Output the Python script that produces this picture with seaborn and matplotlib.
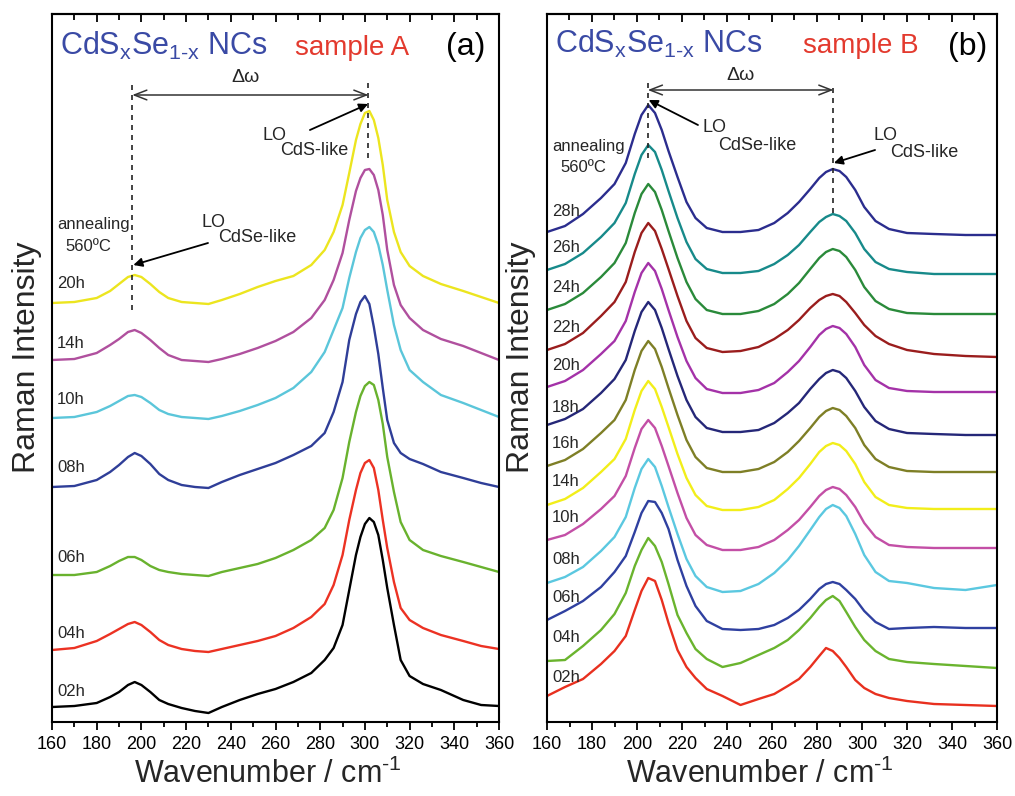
import matplotlib
matplotlib.use("Agg")
import matplotlib.pyplot as plt
from matplotlib.ticker import MultipleLocator
import pandas as pd
import seaborn as sns

# ---------------- data (panel a, sample A) ----------------
wn_a = [160, 170, 180, 186, 190, 194, 197, 200, 204, 208, 212, 218, 224, 230, 236, 244,
        252, 260, 268, 276, 282, 286, 290, 293, 296, 298, 300, 302, 304, 306, 308, 310,
        313, 316, 320, 326, 334, 344, 352, 360]
a_20h = [419, 420, 424, 431, 438, 445, 447, 445, 438, 430, 424, 420, 419, 418, 422, 428,
         435, 441, 446, 457, 472, 490, 517, 549, 582, 598, 609, 611, 602, 584, 557, 522,
         490, 470, 456, 446, 438, 431, 425, 419]
a_14h = [362, 363, 369, 377, 383, 390, 392, 389, 382, 374, 367, 362, 361, 360, 363, 368,
         374, 381, 390, 404, 422, 442, 469, 502, 531, 544, 552, 553, 547, 532, 507, 472,
         437, 417, 404, 392, 383, 376, 369, 362]
a_10h = [304, 305, 310, 316, 321, 326, 327, 325, 319, 312, 308, 305, 304, 303, 306, 311,
         317, 324, 334, 350, 370, 392, 414, 444, 470, 484, 492, 495, 490, 477, 457, 432,
         397, 372, 352, 340, 327, 319, 312, 305]
a_08h = [235, 236, 242, 250, 257, 265, 269, 266, 258, 248, 242, 237, 235, 234, 240, 247,
         253, 259, 267, 276, 289, 310, 340, 382, 408, 420, 426, 418, 395, 368, 334, 302,
         279, 269, 263, 258, 250, 244, 239, 235]
a_06h = [147, 147, 150, 156, 161, 165, 165, 162, 156, 152, 150, 148, 147, 146, 150, 154,
         158, 164, 172, 182, 194, 212, 244, 280, 310, 326, 336, 340, 337, 322, 298, 265,
         230, 200, 182, 172, 166, 160, 155, 150]
a_04h = [72, 74, 81, 88, 93, 98, 100, 97, 90, 82, 77, 73, 71, 70, 73, 77,
         81, 86, 94, 105, 118, 137, 167, 202, 232, 249, 259, 262, 254, 232, 202, 174,
         140, 114, 102, 94, 87, 81, 76, 73]
a_02h = [15, 16, 19, 25, 30, 37, 40, 37, 30, 22, 18, 14, 11, 9, 15, 22,
         28, 33, 40, 49, 62, 74, 97, 132, 167, 185, 198, 204, 200, 187, 162, 134,
         97, 62, 46, 38, 32, 22, 17, 16]
labels_a = ["20h", "14h", "10h", "08h", "06h", "04h", "02h"]
series_a = [a_20h, a_14h, a_10h, a_08h, a_06h, a_04h, a_02h]
colors_a = ["#ece51f", "#b0509e", "#5bc6da", "#2f3e98", "#69b22e", "#ec3223", "#000000"]
label_y_a = [438, 379, 322, 255, 165, 89, 30]

# ---------------- data (panel b, sample B) ----------------
wn_b = [160, 168, 176, 184, 190, 195, 199, 202, 205, 208, 211, 214, 218, 222, 226, 231,
        238, 246, 254, 261, 267, 272, 277, 281, 284, 287, 290, 293, 297, 301, 306, 312,
        320, 332, 346, 360]
b_28h = [490, 496, 508, 524, 538, 559, 588, 607, 617, 609, 592, 571, 545, 520, 504, 494,
         490, 490, 492, 499, 509, 520, 533, 544, 550, 553, 551, 545, 532, 515, 501, 493,
         489, 488, 487, 487]
b_26h = [452, 458, 469, 485, 499, 519, 548, 567, 577, 570, 552, 531, 504, 480, 463, 453,
         449, 449, 451, 458, 467, 477, 490, 500, 505, 508, 506, 501, 489, 473, 460, 453,
         450, 448, 448, 448]
b_24h = [412, 418, 429, 445, 459, 479, 509, 528, 538, 530, 512, 491, 464, 440, 423, 412,
         408, 408, 411, 418, 428, 439, 453, 464, 470, 473, 471, 465, 452, 435, 421, 413,
         409, 408, 408, 408]
b_22h = [372, 378, 389, 406, 420, 440, 470, 489, 499, 491, 473, 453, 426, 401, 384, 374,
         370, 371, 375, 383, 392, 402, 414, 422, 426, 428, 426, 420, 409, 397, 386, 378,
         372, 368, 366, 365]
b_20h = [335, 341, 352, 368, 381, 401, 430, 449, 459, 451, 433, 412, 385, 361, 344, 333,
         329, 329, 332, 339, 350, 361, 375, 387, 393, 396, 394, 388, 375, 357, 342, 334,
         331, 330, 330, 330]
b_18h = [297, 303, 313, 329, 343, 362, 391, 410, 420, 412, 394, 373, 346, 322, 305, 294,
         290, 290, 292, 299, 309, 319, 333, 343, 349, 352, 350, 344, 331, 315, 301, 293,
         289, 288, 287, 287]
b_16h = [256, 262, 273, 289, 302, 322, 352, 371, 381, 373, 355, 334, 307, 282, 265, 254,
         250, 250, 253, 260, 270, 281, 294, 305, 311, 314, 312, 306, 294, 277, 263, 255,
         251, 250, 250, 250]
b_14h = [217, 223, 234, 250, 263, 283, 312, 331, 341, 333, 315, 295, 268, 244, 227, 216,
         212, 212, 215, 222, 233, 244, 258, 270, 276, 279, 277, 271, 258, 240, 225, 217,
         214, 213, 213, 213]
b_10h = [182, 187, 198, 213, 226, 246, 274, 293, 302, 294, 276, 256, 229, 204, 187, 177,
         172, 172, 175, 182, 192, 202, 215, 226, 232, 235, 233, 227, 215, 199, 185, 177,
         175, 174, 174, 174]
b_08h = [139, 145, 155, 171, 185, 205, 234, 253, 263, 255, 236, 215, 188, 163, 146, 135,
         130, 131, 138, 149, 162, 176, 192, 205, 213, 217, 214, 206, 188, 167, 150, 141,
         139, 134, 132, 137]
b_06h = [102, 111, 121, 135, 150, 166, 190, 209, 221, 220, 209, 193, 162, 136, 116, 101,
         93, 92, 93, 97, 104, 112, 123, 133, 138, 140, 138, 132, 123, 111, 100, 93,
         94, 95, 94, 94]
b_04h = [61, 62, 76, 92, 108, 129, 156, 172, 184, 176, 160, 138, 107, 89, 73, 63,
         55, 59, 67, 74, 82, 92, 104, 115, 122, 126, 121, 110, 95, 82, 71, 63,
         60, 58, 56, 54]
b_02h = [26, 35, 43, 58, 71, 86, 112, 131, 144, 141, 122, 99, 72, 55, 44, 33,
         26, 17, 23, 28, 36, 43, 55, 66, 74, 71, 64, 55, 42, 34, 28, 24,
         21, 18, 17, 16]
labels_b = ["28h", "26h", "24h", "22h", "20h", "18h", "16h", "14h", "10h", "08h", "06h",
            "04h", "02h"]
series_b = [b_28h, b_26h, b_24h, b_22h, b_20h, b_18h, b_16h, b_14h, b_10h, b_08h, b_06h,
            b_04h, b_02h]
colors_b = ["#2b2d8e", "#178a8a", "#2a8a3a", "#9a1d1d", "#a432a8", "#252778", "#7e7f26",
            "#f2ee1a", "#c34fa6", "#5bc8e0", "#2f40a0", "#6ab42e", "#e8301f"]
label_y_b = [511, 475, 435, 395, 357, 314, 279, 240, 205, 162, 124, 84, 45]


def long_frame(wn, series, labels):
    parts = []
    for lab, vals in zip(labels, series):
        parts.append(pd.DataFrame({"wn": wn, "I": vals, "time": lab}))
    return pd.concat(parts, ignore_index=True)


df_a = long_frame(wn_a, series_a, labels_a)
df_b = long_frame(wn_b, series_b, labels_b)

sns.set_style("ticks")
plt.rcParams["font.family"] = ["Liberation Sans", "DejaVu Sans"]
plt.rcParams["mathtext.fontset"] = "custom"
plt.rcParams["mathtext.rm"] = "Liberation Sans"
plt.rcParams["mathtext.it"] = "Liberation Sans:italic"
plt.rcParams["axes.edgecolor"] = "black"
plt.rcParams["xtick.color"] = "black"

fig = plt.figure(figsize=(10.15, 7.96), dpi=100)
axA = fig.add_axes([52 / 1015, 74 / 796, 447 / 1015, 708 / 796])
axB = fig.add_axes([547 / 1015, 74 / 796, 450 / 1015, 708 / 796])

sns.lineplot(data=df_a, x="wn", y="I", hue="time", palette=dict(zip(labels_a, colors_a)),
             estimator=None, sort=False, legend=False, linewidth=1.7, ax=axA)
sns.lineplot(data=df_b, x="wn", y="I", hue="time", palette=dict(zip(labels_b, colors_b)),
             estimator=None, sort=False, legend=False, linewidth=1.7, ax=axB)

BLUE = "#3a4aa5"
RED = "#e33a2e"

for ax in (axA, axB):
    ax.set_xlim(160, 360)
    ax.set_ylim(0, 708)
    ax.set_yticks([])
    ax.xaxis.set_major_locator(MultipleLocator(20))
    ax.xaxis.set_minor_locator(MultipleLocator(10))
    ax.tick_params(axis="x", which="major", direction="out", length=6, width=1.3,
                   labelsize=13, pad=4)
    ax.tick_params(axis="x", which="minor", direction="out", length=3.5, width=1.3)
    sec = ax.secondary_xaxis("top")
    sec.xaxis.set_major_locator(MultipleLocator(20))
    sec.xaxis.set_minor_locator(MultipleLocator(10))
    sec.tick_params(axis="x", which="major", direction="in", length=6, width=1.3,
                    labeltop=False)
    sec.tick_params(axis="x", which="minor", direction="in", length=4, width=1.3)
    sec.spines["top"].set_linewidth(1.5)
    for s in ax.spines.values():
        s.set_linewidth(1.5)
        s.set_visible(True)
    ax.set_xlabel(r"Wavenumber / cm$^{\text{-1}}$", fontsize=22)
    ax.set_ylabel("")
    ax.text(-0.057, 0.515, "Raman Intensity", rotation=90, fontsize=23,
            transform=ax.transAxes, ha="center", va="center")
    for t in ax.get_xticklabels():
        t.set_fontsize(13)

axA.xaxis.set_label_coords(0.483, -0.052)
axB.xaxis.set_label_coords(0.473, -0.052)

title_txt = r"CdS$_{\text{x}}$Se$_{\text{1-x}}$ NCs"

# ---- panel a annotations ----
axA.text(163.6, 667, title_txt, color=BLUE, fontsize=22, ha="left", va="baseline")
axA.text(268.7, 667, "sample A", color=RED, fontsize=20, ha="left", va="baseline")
axA.text(336.5, 675, "(a)", color="black", fontsize=23, ha="left", va="center")
axA.text(246.4, 644, "Δω", fontsize=14, ha="center", va="center")
axA.annotate("", xy=(301.6, 627), xytext=(195.9, 627),
             arrowprops=dict(arrowstyle="<->,head_length=0.9,head_width=0.35",
                             lw=1.1, color="#333333", shrinkA=0, shrinkB=0))
axA.plot([195.9, 195.9], [637, 407], ls=(0, (3, 3)), color="#222222", lw=1.2)
axA.plot([301.6, 301.6], [639, 564], ls=(0, (3, 3)), color="#222222", lw=1.2)
axA.text(254, 582, "LO", fontsize=13, ha="left", va="baseline")
axA.text(262, 567, "CdS-like", fontsize=13, ha="left", va="baseline")
axA.annotate("", xy=(301.4, 618), xytext=(275.4, 592),
             arrowprops=dict(arrowstyle="-|>", lw=1.3, color="black", mutation_scale=13,
                             shrinkA=0, shrinkB=0))
axA.text(227.1, 495, "LO", fontsize=13, ha="left", va="baseline")
axA.text(234.3, 480, "CdSe-like", fontsize=13, ha="left", va="baseline")
axA.annotate("", xy=(196.4, 457), xytext=(229.8, 479),
             arrowprops=dict(arrowstyle="-|>", lw=1.3, color="black", mutation_scale=13,
                             shrinkA=0, shrinkB=0))
axA.text(162.2, 493, "annealing", fontsize=12, ha="left", va="baseline")
axA.text(165.8, 471, "560ºC", fontsize=12, ha="left", va="baseline")
for lab, yy in zip(labels_a, label_y_a):
    axA.text(162.2, yy, lab, fontsize=12, ha="left", va="center")

# ---- panel b annotations ----
axB.text(163.6, 669, title_txt, color=BLUE, fontsize=22, ha="left", va="baseline")
axB.text(273.8, 669, "sample B", color=RED, fontsize=20, ha="left", va="baseline")
axB.text(338.0, 675, "(b)", color="black", fontsize=23, ha="left", va="center")
axB.text(245.8, 646, "Δω", fontsize=14, ha="center", va="center")
axB.annotate("", xy=(287.3, 632), xytext=(204.8, 632),
             arrowprops=dict(arrowstyle="<->,head_length=0.9,head_width=0.35",
                             lw=1.1, color="#333333", shrinkA=0, shrinkB=0))
axB.plot([204.8, 204.8], [639, 562], ls=(0, (3, 3)), color="#222222", lw=1.2)
axB.plot([287.3, 287.3], [634, 509], ls=(0, (3, 3)), color="#222222", lw=1.2)
axB.text(228.9, 590, "LO", fontsize=13, ha="left", va="baseline")
axB.text(236.0, 572, "CdSe-like", fontsize=13, ha="left", va="baseline")
axB.annotate("", xy=(205.2, 622), xytext=(227.1, 597),
             arrowprops=dict(arrowstyle="-|>", lw=1.3, color="black", mutation_scale=13,
                             shrinkA=0, shrinkB=0))
axB.text(304.9, 582, "LO", fontsize=13, ha="left", va="baseline")
axB.text(312.4, 565, "CdS-like", fontsize=13, ha="left", va="baseline")
axB.annotate("", xy=(287.5, 559), xytext=(305.8, 572),
             arrowprops=dict(arrowstyle="-|>", lw=1.3, color="black", mutation_scale=13,
                             shrinkA=0, shrinkB=0))
axB.text(162.2, 571, "annealing", fontsize=12, ha="left", va="baseline")
axB.text(165.8, 550, "560ºC", fontsize=12, ha="left", va="baseline")
for lab, yy in zip(labels_b, label_y_b):
    axB.text(162.2, yy, lab, fontsize=12, ha="left", va="center")

fig.savefig("out.png", dpi=100)
